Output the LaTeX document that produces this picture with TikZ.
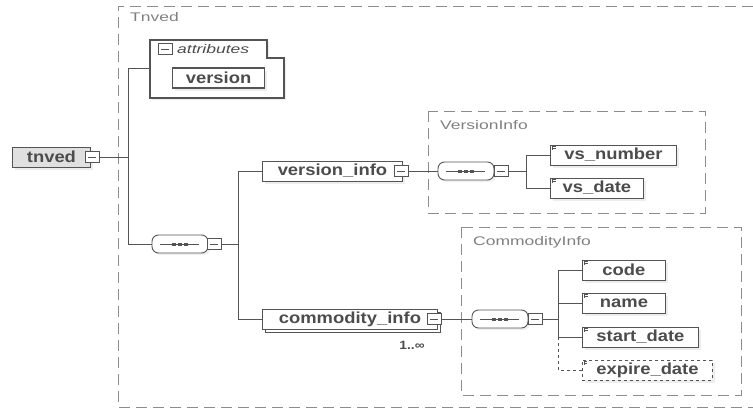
\documentclass[tikz,border=0pt]{standalone}
\usepackage{fontspec}
\newfontfamily\elemfam[FakeStretch=1.15]{Liberation Sans}
\newfontfamily\labfam[FakeStretch=1.4]{Liberation Sans}
\usetikzlibrary{shadows}
\definecolor{linecol}{gray}{0.33}
\definecolor{textcol}{gray}{0.3}
\definecolor{dashcol}{gray}{0.55}
\definecolor{labcol}{gray}{0.5}
\tikzset{
  conn/.style={draw=linecol, line width=0.9pt},
  elem/.style={draw=linecol, line width=0.9pt, fill=white, text=textcol,
    font=\elemfam\bfseries\fontsize{16}{16}\selectfont, inner sep=0pt,
    minimum height=20pt, anchor=west,
    drop shadow={shadow xshift=2.5pt, shadow yshift=-2.5pt, fill=black!14}},
  childel/.style={elem, path picture={
    \draw[linecol, line width=0.5pt]
      ([shift={(1.5pt,-1.5pt)}]path picture bounding box.north west) -- ++(4pt,0)
      ([shift={(1.5pt,-3pt)}]path picture bounding box.north west) -- ++(4pt,0)
      ([shift={(1.5pt,-1.5pt)}]path picture bounding box.north west) -- ++(0,-3pt);}},
  minusbox/.style={draw=linecol, line width=0.8pt, fill=white, minimum width=14pt,
    minimum height=11pt, inner sep=0pt, path picture={
    \draw[linecol, line width=0.7pt] ([xshift=3pt]path picture bounding box.west)
      -- ([xshift=-3pt]path picture bounding box.east);}},
  seqbox/.style={rectangle, rounded corners=6.5pt, draw=linecol, line width=0.9pt, fill=white,
    minimum width=56pt, minimum height=18pt, inner sep=0pt,
    drop shadow={shadow xshift=2pt, shadow yshift=-2pt, fill=black!12}},
  groupbox/.style={draw=dashcol, line width=0.8pt, dash pattern=on 11pt off 6pt},
  grouplab/.style={font=\labfam\fontsize{12.5}{12.5}\selectfont, text=labcol,
    anchor=west, inner sep=0pt},
}
\newcommand\seqmark[1]{%
  \draw[linecol, line width=0.8pt] ([xshift=8pt]#1.west) -- ([xshift=-9pt]#1.east);
  \foreach \dx in {-6,0,6} {\fill[linecol] ([xshift=\dx pt]#1.center) +(-2pt,-1.5pt) rectangle +(2pt,1.5pt);}
}
\begin{document}
\begin{tikzpicture}[x=1pt, y=-1pt]
\useasboundingbox (0,0) rectangle (753,410);
% outer group
\draw[groupbox] (753,6) -- (118,6) -- (118,407) -- (753,407);
\node[grouplab] (tlab) at (130,17) {Tnved};
% attributes
\draw[draw=linecol, line width=1.2pt, fill=white,
  drop shadow={shadow xshift=2pt, shadow yshift=-2pt, fill=black!12}]
  (150,40) -- (267,40) -- (267,58) -- (284,58) -- (284,98) -- (150,98) -- cycle;
\coordinate (attr) at (150,68);
\node[minusbox] (attrm) at (165,49) {};
\node[font=\labfam\itshape\fontsize{12.5}{12.5}\selectfont, text=black!70, anchor=west, inner sep=0pt] (attrlab) at (177,49) {attributes};
\node[elem, line width=1.2pt, minimum width=92pt] (version) at (172,78) {version};
% root
\node[elem, fill=black!12, minimum width=78pt] (tnved) at (12,157) {tnved};
\node[minusbox] (tnvedm) at (92,157) {};
\coordinate (j1) at (128,157);
\draw[conn] (tnvedm.east) -- (j1);
\draw[conn] (attr) -| (j1);
% sequence 1
\node[seqbox] (seq1) at (180,244) {};
\seqmark{seq1}
\node[minusbox] (seq1m) at (214,244) {};
\draw[conn] (j1) |- (seq1.west);
\coordinate (j2) at (238,244);
\draw[conn] (seq1m.east) -- (j2);
% version_info
\node[elem, minimum width=140pt] (vinfo) at (262,171) {version\_info};
\node[minusbox] (vinfom) at (401,171) {};
\draw[conn] (j2) |- (vinfo.west);
% commodity_info
\node[elem, minimum width=175pt,
  copy shadow={shadow xshift=3pt, shadow yshift=-3pt, draw=linecol, fill=white}] (cinfo) at (262,319) {commodity\_info};
\node[minusbox] (cinfom) at (434,319) {};
\node[font=\elemfam\bfseries\fontsize{12}{12}\selectfont, text=textcol, inner sep=0pt] (mult) at (412,345) {1..∞};
\draw[conn] (j2) |- (cinfo.west);
% VersionInfo group
\draw[groupbox] (428,111) rectangle (705,213);
\node[grouplab] (vlab) at (440,125) {VersionInfo};
\node[seqbox] (seq2) at (466,171) {};
\seqmark{seq2}
\node[minusbox] (seq2m) at (501,171) {};
\draw[conn] (vinfom.east) -- (seq2.west);
\coordinate (j3) at (526,171);
\draw[conn] (seq2m.east) -- (j3);
\node[childel, minimum width=126pt] (vsnum) at (550,155) {vs\_number};
\node[childel, minimum width=93pt] (vsdate) at (550,188) {vs\_date};
\draw[conn] (j3) |- (vsnum.west);
\draw[conn] (j3) |- (vsdate.west);
% CommodityInfo group
\draw[groupbox] (461,227) rectangle (741,395);
\node[grouplab] (clab) at (473,242) {CommodityInfo};
\node[seqbox] (seq3) at (500,319) {};
\seqmark{seq3}
\node[minusbox] (seq3m) at (535,319) {};
\draw[conn] (cinfom.east) -- (seq3.west);
\coordinate (j4) at (558,319);
\draw[conn] (seq3m.east) -- (j4);
\node[childel, minimum width=83pt] (code) at (582,270) {code};
\node[childel, minimum width=83pt] (name) at (582,303) {name};
\node[childel, minimum width=116pt] (start) at (582,337) {start\_date};
\node[childel, dashed, minimum width=130pt] (expire) at (582,370) {expire\_date};
\draw[conn] (j4) |- (code.west);
\draw[conn] (j4) |- (name.west);
\draw[conn] (j4) |- (start.west);
\draw[conn, dashed] (start.west -| j4) |- (expire.west);
\end{tikzpicture}
\end{document}
